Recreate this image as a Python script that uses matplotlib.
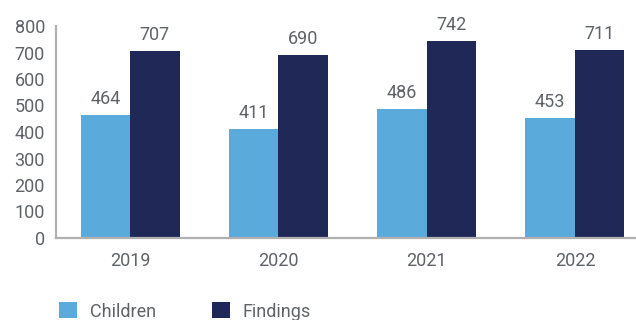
import numpy as np
import matplotlib.pyplot as plt
from matplotlib.patches import Patch

plt.rcParams['font.family'] = ['Roboto', 'DejaVu Sans']

years = ["2019", "2020", "2021", "2022"]
children = [464, 411, 486, 453]
findings = [707, 690, 742, 711]

light_blue = "#5aaadc"
navy = "#1f2857"
text_grey = "#5f6368"
axis_grey = "#b0b0b0"

fig = plt.figure(figsize=(6.36, 3.2), dpi=100)
# axes run past the right edge of the figure
ax = fig.add_axes([56 / 636, 82 / 320, 593 / 636, 212 / 320])

x = np.arange(len(years))
width = 0.334

bars_c = ax.bar(x - width / 2, children, width, color=light_blue)
bars_f = ax.bar(x + width / 2, findings, width, color=navy)

for bars in (bars_c, bars_f):
    for b in bars:
        ax.annotate(f"{int(b.get_height())}",
                    (b.get_x() + b.get_width() / 2, b.get_height()),
                    xytext=(0, 5), textcoords="offset points",
                    ha="center", va="bottom", fontsize=13, color=text_grey)

ax.set_xlim(-0.5, 3.5)
ax.set_ylim(0, 800)
ax.set_yticks(range(0, 801, 100))
ax.set_xticks(x)
ax.set_xticklabels(years)

for s in ("top", "right"):
    ax.spines[s].set_visible(False)
for s in ("left", "bottom"):
    ax.spines[s].set_color(axis_grey)
    ax.spines[s].set_linewidth(1.6)

ax.tick_params(axis="y", length=0, pad=8, labelsize=13, labelcolor=text_grey)
ax.tick_params(axis="x", length=0, pad=10, labelsize=13, labelcolor=text_grey)

handles = [Patch(facecolor=light_blue, label="Children"),
           Patch(facecolor=navy, label="Findings")]
fig.legend(handles=handles, loc="upper left", bbox_to_anchor=(43 / 636, 1 - 286 / 320),
           ncol=2, frameon=False, fontsize=13, labelcolor=text_grey,
           handlelength=1.0, handleheight=1.0, handletextpad=0.7, columnspacing=3.1)

fig.savefig("out.png", dpi=100)
